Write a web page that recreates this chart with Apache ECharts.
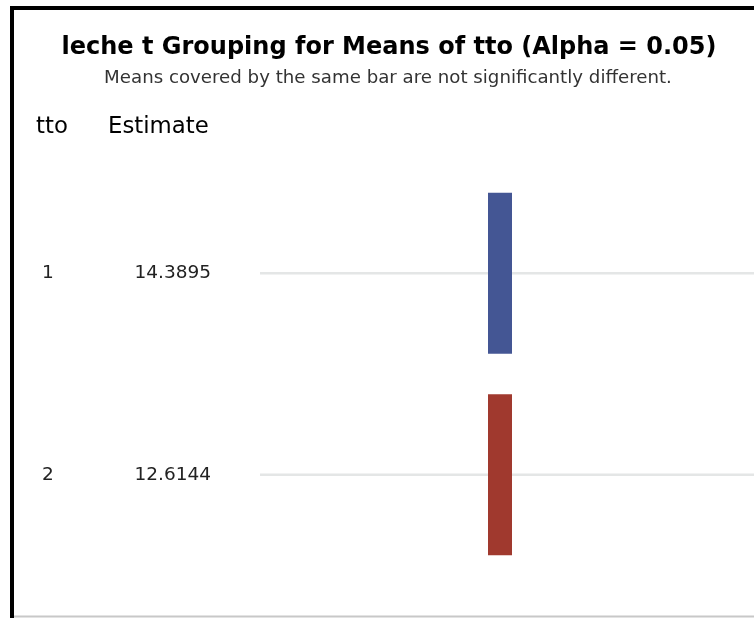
<!DOCTYPE html>
<html>
<head>
<meta charset="utf-8">
<script src="https://cdn.jsdelivr.net/npm/echarts@6/dist/echarts.min.js"></script>
<style>
  html, body { margin: 0; padding: 0; background: #fff; }
  #chart { width: 754px; height: 618px; }
</style>
</head>
<body>
<div id="chart"></div>
<script>
// Treatment levels and their estimated means
const tto = ['1', '2'];
const estimates = [14.3895, 12.6144];

// Grouping bars: each bar spans the levels from barStart to barEnd in one column
const groupColumns = ['A'];
const barColumn = ['A', 'A'];
const barStart = ['1', '2'];
const barEnd = ['1', '2'];

const barColors = ['#445694', '#A0392E'];
const FONT = '"DejaVu Sans", sans-serif';

const chart = echarts.init(document.getElementById('chart'), null, { renderer: 'canvas' });

const barData = barColumn.map((c, i) => [c, barStart[i], barEnd[i]]);

chart.setOption({
  animation: false,
  backgroundColor: '#fff',
  grid: { left: 260, right: 14, top: 172.5, bottom: 42.5 },
  xAxis: {
    type: 'category',
    data: groupColumns,
    show: false
  },
  yAxis: {
    type: 'category',
    data: tto,
    inverse: true,
    axisLine: { show: false },
    axisTick: { show: false },
    splitLine: { show: false },
    axisLabel: {
      margin: 49,
      formatter: (v, idx) => '{t|' + v + '}{e|' + estimates[idx].toFixed(4) + '}',
      rich: {
        t: { width: 60, align: 'left', fontFamily: FONT, fontSize: 18.5, color: '#222' },
        e: { width: 109, align: 'right', fontFamily: FONT, fontSize: 18.5, color: '#222' }
      }
    }
  },
  graphic: [
    { type: 'line', shape: { x1: 12, y1: 6, x2: 12, y2: 618 }, style: { stroke: '#000', lineWidth: 4 } },
    { type: 'line', shape: { x1: 10, y1: 8, x2: 754, y2: 8 }, style: { stroke: '#000', lineWidth: 4 } },
    { type: 'line', shape: { x1: 14, y1: 616.5, x2: 754, y2: 616.5 }, style: { stroke: '#c8c8c8', lineWidth: 2 } },
    {
      type: 'text', x: 389, y: 48,
      style: {
        text: 'leche t Grouping for Means of tto (Alpha = 0.05)',
        font: 'bold 24px ' + FONT, fill: '#000', align: 'center', verticalAlign: 'middle'
      }
    },
    {
      type: 'text', x: 388, y: 78,
      style: {
        text: 'Means covered by the same bar are not significantly different.',
        font: '18.2px ' + FONT, fill: '#333', align: 'center', verticalAlign: 'middle'
      }
    },
    {
      type: 'text', x: 36, y: 127,
      style: { text: 'tto', font: '22.8px ' + FONT, fill: '#000', align: 'left', verticalAlign: 'middle' }
    },
    {
      type: 'text', x: 108, y: 127,
      style: { text: 'Estimate', font: '22.8px ' + FONT, fill: '#000', align: 'left', verticalAlign: 'middle' }
    }
  ],
  series: [
    {
      // horizontal reference line through each level, running to the right edge
      type: 'custom',
      coordinateSystem: 'cartesian2d',
      clip: false,
      silent: true,
      z: 1,
      data: tto.map(t => [groupColumns[0], t]),
      renderItem: (params, api) => {
        const p = api.coord([api.value(0), api.value(1)]);
        return {
          type: 'line',
          shape: { x1: params.coordSys.x, y1: p[1], x2: api.getWidth(), y2: p[1] },
          style: { stroke: '#e4e6e6', lineWidth: 2.5 }
        };
      }
    },
    {
      type: 'custom',
      coordinateSystem: 'cartesian2d',
      z: 2,
      data: barData,
      encode: { x: 0, y: [1, 2] },
      renderItem: (params, api) => {
        const a = api.coord([api.value(0), api.value(1)]);
        const b = api.coord([api.value(0), api.value(2)]);
        const band = api.size([0, 1])[1];
        const w = 24;
        const y0 = a[1] - band * 0.4;
        const y1 = b[1] + band * 0.4;
        return {
          type: 'rect',
          shape: { x: a[0] - w / 2, y: y0, width: w, height: y1 - y0 },
          style: { fill: barColors[params.dataIndex % barColors.length] }
        };
      }
    }
  ]
});
</script>
</body>
</html>
